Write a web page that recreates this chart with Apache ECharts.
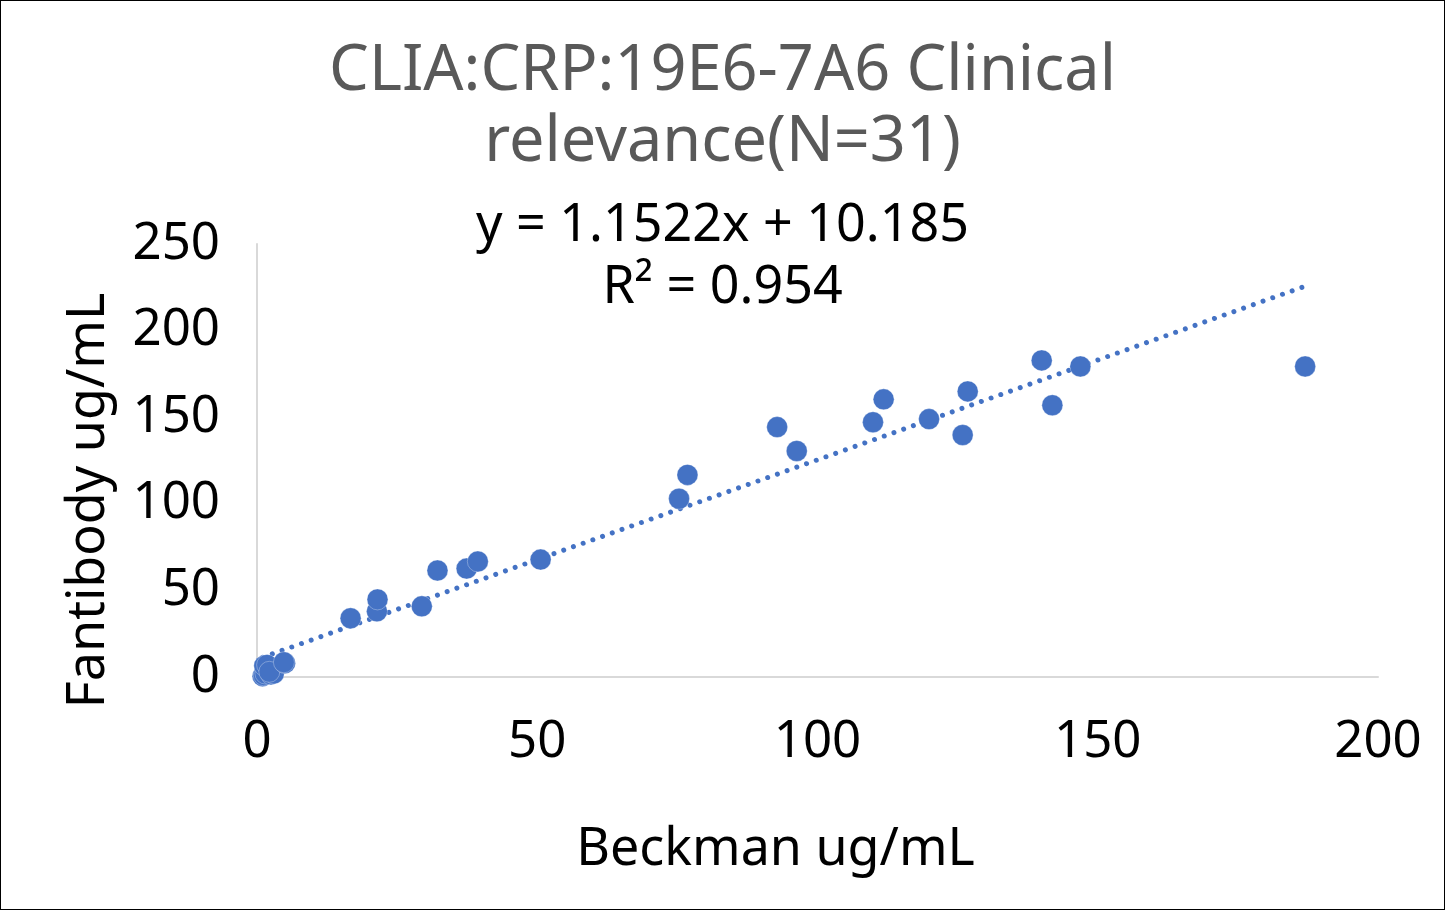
<!DOCTYPE html>
<html>
<head>
<meta charset="utf-8">
<script src="https://cdn.jsdelivr.net/npm/echarts@6/dist/echarts.min.js"></script>
<style>
  html, body { margin: 0; padding: 0; background: #fff; }
  #main { width: 1443px; height: 908px; border: 1px solid #000; }
</style>
</head>
<body>
<div id="main"></div>
<script>
// 读图得到的数据点 (Beckman, Fantibody)
var beckman = [1.0, 1.2, 1.5, 1.3, 1.8, 2.5, 3.0, 2.2, 5.0, 4.8,
  16.7, 21.4, 21.5, 29.4, 32.2, 37.4, 39.4, 50.6, 75.3, 76.8,
  92.8, 96.3, 109.9, 111.8, 119.9, 125.9, 126.8, 140.0, 141.9, 146.9, 187.0];
var fantibody = [0.5, 1.0, 2.0, 6.5, 7.0, 1.5, 2.0, 3.0, 8.0, 8.5,
  33.9, 37.9, 44.8, 40.8, 61.5, 62.6, 66.7, 67.8, 102.9, 116.7,
  144.3, 130.5, 147.1, 160.3, 148.9, 139.7, 164.9, 182.8, 156.9, 179.3, 179.3];
var xTicks = [0, 50, 100, 150, 200];
var yTicks = [0, 50, 100, 150, 200, 250];
var slope = 1.1522, intercept = 10.185, r2 = 0.954;

var points = beckman.map(function (x, i) { return [x, fantibody[i]]; });
var xMin = Math.min.apply(null, beckman), xMax = Math.max.apply(null, beckman);
var trend = [[xMin, slope * xMin + intercept], [xMax, slope * xMax + intercept]];

var font = '"Noto Sans", "Open Sans", sans-serif';
var chart = echarts.init(document.getElementById('main'));
var option = {
  animation: false,
  title: [
    {
      text: 'CLIA:CRP:19E6-7A6 Clinical\nrelevance(N=31)',
      left: 'center', top: 31,
      textStyle: { fontFamily: font, fontSize: 63, fontWeight: 'normal', color: '#595959', lineHeight: 71 }
    },
    {
      text: 'y = ' + slope + 'x + ' + intercept + '\nR² = ' + r2,
      left: 'center', top: 189,
      textStyle: { fontFamily: font, fontSize: 52, fontWeight: 'normal', color: '#000', lineHeight: 62 }
    }
  ],
  grid: { left: 256, right: 66, top: 243, bottom: 232 },
  xAxis: {
    type: 'value', min: xTicks[0], max: xTicks[xTicks.length - 1], interval: 50,
    name: 'Beckman ug/mL', nameLocation: 'middle', nameGap: 147,
    nameTextStyle: { fontFamily: font, fontSize: 52, color: '#000', padding: [0, 84, 0, 0] },
    axisLine: { show: true, lineStyle: { color: '#d9d9d9', width: 2 } },
    axisTick: { show: false },
    splitLine: { show: false },
    axisLabel: { fontFamily: font, fontSize: 51, color: '#000', margin: 40 }
  },
  yAxis: {
    type: 'value', min: yTicks[0], max: yTicks[yTicks.length - 1], interval: 50,
    name: 'Fantibody ug/mL', nameLocation: 'middle', nameGap: 142,
    nameTextStyle: { fontFamily: font, fontSize: 52, color: '#000', padding: [0, 80, 0, 0] },
    axisLine: { show: true, lineStyle: { color: '#d9d9d9', width: 2 } },
    axisTick: { show: false },
    splitLine: { show: false },
    axisLabel: { fontFamily: font, fontSize: 51, color: '#000', margin: 37 }
  },
  series: [
    {
      type: 'line', data: trend, symbol: 'none', silent: true,
      lineStyle: { color: '#4472C4', width: 5, type: [0.01, 10.3], cap: 'round' },
      z: 1
    },
    {
      type: 'scatter', data: points, symbolSize: 21,
      itemStyle: { color: '#4472C4', borderColor: 'rgba(255,255,255,0.3)', borderWidth: 1, opacity: 1 },
      z: 2
    }
  ]
};
chart.setOption(option);
</script>
</body>
</html>
